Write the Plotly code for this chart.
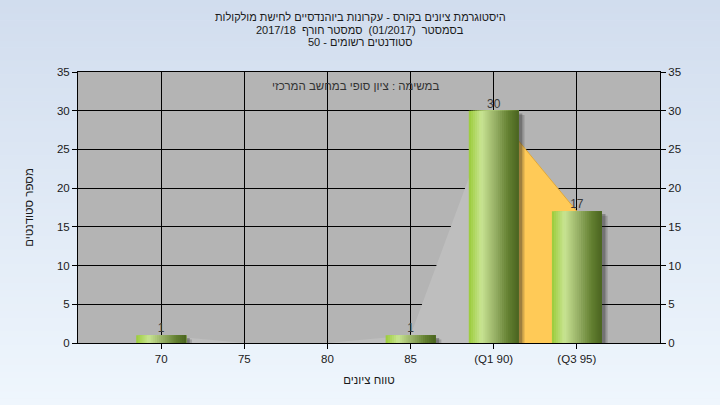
import plotly.graph_objects as go

# ---------------- data ----------------
grades = [70, 75, 80, 85, 90, 95]
counts = [1, 0, 0, 1, 30, 17]
tick_labels = ["70", "75", "80", "85", "(Q1 90)", "(Q3 95)"]
q1_grade = 90
q3_grade = 95
title_lines = [
    "היסטוגרמת ציונים בקורס - עקרונות ביוהנדסיים לחישת מולקולות",
    "בסמסטר  (01/2017)  סמסטר חורף  2017/18",
    "סטודנטים רשומים - 50",
]
note_text = "במשימה : ציון סופי במחשב המרכזי"
x_title = "טווח ציונים"
y_title = "מספר סטודנטים"

# ---------------- layout constants ----------------
W, H = 720, 405
ML, MR, MT, MB = 78, 60, 72, 62
PW, PH = W - ML - MR, H - MT - MB
FONT = "Liberation Sans, DejaVu Sans, Arial, sans-serif"
BAR_W = 3.0
N_SLICES = 24


def lerp(c1, c2, t):
    return tuple(int(round(a + (b - a) * t)) for a, b in zip(c1, c2))


def hex2rgb(h):
    h = h.lstrip("#")
    return tuple(int(h[i:i + 2], 16) for i in (0, 2, 4))


stops = [(0.0, hex2rgb("#9ACB38")), (0.25, hex2rgb("#C9E593")),
         (0.55, hex2rgb("#93AC62")), (0.8, hex2rgb("#627F30")),
         (1.0, hex2rgb("#4A6420"))]


def grad_color(t):
    for (t0, c0), (t1, c1) in zip(stops[:-1], stops[1:]):
        if t <= t1:
            c = lerp(c0, c1, (t - t0) / (t1 - t0))
            return "rgb(%d,%d,%d)" % c
    return "rgb(%d,%d,%d)" % stops[-1][1]


fig = go.Figure()

# area behind bars (main subplot: x, y)
fig.add_trace(go.Scatter(
    x=grades, y=counts, mode="lines", fill="tozeroy",
    fillcolor="#BEBEBE", line=dict(width=0, color="#BEBEBE"),
    hoverinfo="skip", showlegend=False))
qx = [g for g in grades if q1_grade <= g <= q3_grade]
qy = [c for g, c in zip(grades, counts) if q1_grade <= g <= q3_grade]
fig.add_trace(go.Scatter(
    x=qx, y=qy, mode="lines", fill="tozeroy",
    fillcolor="#FFCA57", line=dict(width=1, color="#E0A83A"),
    hoverinfo="skip", showlegend=False))

# shadows (overlay subplot: x, y2 -> drawn above the area)
for dx, db, op in [(0.35, -0.55, 0.18), (0.22, -0.35, 0.3)]:
    fig.add_trace(go.Bar(
        x=grades, y=counts, base=[db] * len(grades), yaxis="y2",
        width=BAR_W, offset=-BAR_W / 2 + dx,
        marker=dict(color="rgba(30,30,30,%.2f)" % op, line=dict(width=0)),
        hoverinfo="skip", showlegend=False))

# gradient bars (slices, each extends to the right edge to avoid gaps)
step = BAR_W / N_SLICES
for i in range(N_SLICES):
    t = (i + 0.5) / N_SLICES
    fig.add_trace(go.Bar(
        x=grades, y=counts, yaxis="y2",
        width=BAR_W - i * step, offset=-BAR_W / 2 + i * step,
        marker=dict(color=grad_color(t), line=dict(width=0)),
        hoverinfo="skip", showlegend=False))

# value labels
fig.add_trace(go.Scatter(
    x=grades, y=counts, mode="text", yaxis="y2",
    text=[str(c) if c > 0 else "" for c in counts],
    textposition="top center",
    textfont=dict(family=FONT, size=12, color="#3A3A3A"),
    hoverinfo="skip", showlegend=False, cliponaxis=False))

# background gradient shapes
shapes = []
n_strips = 60
top_c, bot_c = hex2rgb("#D1DDEE"), hex2rgb("#EFF6FD")
for i in range(n_strips):
    py0 = H * i / n_strips
    py1 = H * (i + 1) / n_strips + 0.5
    c = lerp(top_c, bot_c, i / (n_strips - 1))
    shapes.append(dict(
        type="rect", xref="paper", yref="paper", layer="below",
        x0=-ML / PW, x1=(W - ML) / PW,
        y0=(H - MB - py1) / PH, y1=(H - MB - py0) / PH,
        fillcolor="rgb(%d,%d,%d)" % c, line=dict(width=0)))
shapes.append(dict(type="rect", xref="paper", yref="paper", layer="below",
                   x0=0, x1=1, y0=0, y1=1, fillcolor="#B4B4B4",
                   line=dict(width=0)))

annotations = []
for k, line in enumerate(title_lines):
    py = 17 + k * 12.5
    annotations.append(dict(
        text=line, xref="paper", yref="paper", showarrow=False,
        x=(360 - ML) / PW, y=(H - MB - py) / PH,
        xanchor="center", yanchor="middle",
        font=dict(family=FONT, size=11, color="#1A1A1A")))
annotations.append(dict(
    text=note_text, xref="paper", yref="paper", showarrow=False,
    x=(355 - ML) / PW, y=(H - MB - 86) / PH,
    xanchor="center", yanchor="middle",
    font=dict(family=FONT, size=11.5, color="#333333")))

axis_font = dict(family=FONT, size=11.5, color="#1A1A1A")

fig.update_layout(
    width=W, height=H,
    margin=dict(l=ML, r=MR, t=MT, b=MB, pad=0, autoexpand=False),
    paper_bgcolor="#E2EBF7", plot_bgcolor="rgba(0,0,0,0)",
    barmode="overlay", showlegend=False,
    shapes=shapes, annotations=annotations,
    xaxis=dict(range=[65, 100], tickmode="array", tickvals=grades,
               ticktext=tick_labels, showgrid=True, gridcolor="black",
               gridwidth=1, ticks="outside", ticklen=5, tickcolor="black",
               showline=True, linecolor="black", linewidth=1, mirror=True,
               zeroline=False, tickfont=axis_font, automargin=False,
               title=dict(text=x_title, font=dict(family=FONT, size=11.5,
                                                  color="#1A1A1A"),
                          standoff=12)),
    yaxis=dict(range=[0, 35], dtick=5, tick0=0, showgrid=True,
               gridcolor="black", gridwidth=1, ticks="outside", ticklen=5,
               tickcolor="black", showline=True, linecolor="black",
               linewidth=1, mirror=True, zeroline=False, tickfont=axis_font,
               automargin=False,
               title=dict(text=y_title, font=dict(family=FONT, size=11.5,
                                                  color="#1A1A1A"),
                          standoff=20)),
    yaxis2=dict(range=[0, 35], dtick=5, tick0=0, overlaying="y",
                side="right", showgrid=False, ticks="outside", ticklen=5,
                tickcolor="black", showline=False, zeroline=False,
                tickfont=axis_font, automargin=False),
)

fig.write_html("out.html",
               config={"displayModeBar": False},
               post_script="document.body.style.margin='0';"
                           "document.body.style.overflow='hidden';")
